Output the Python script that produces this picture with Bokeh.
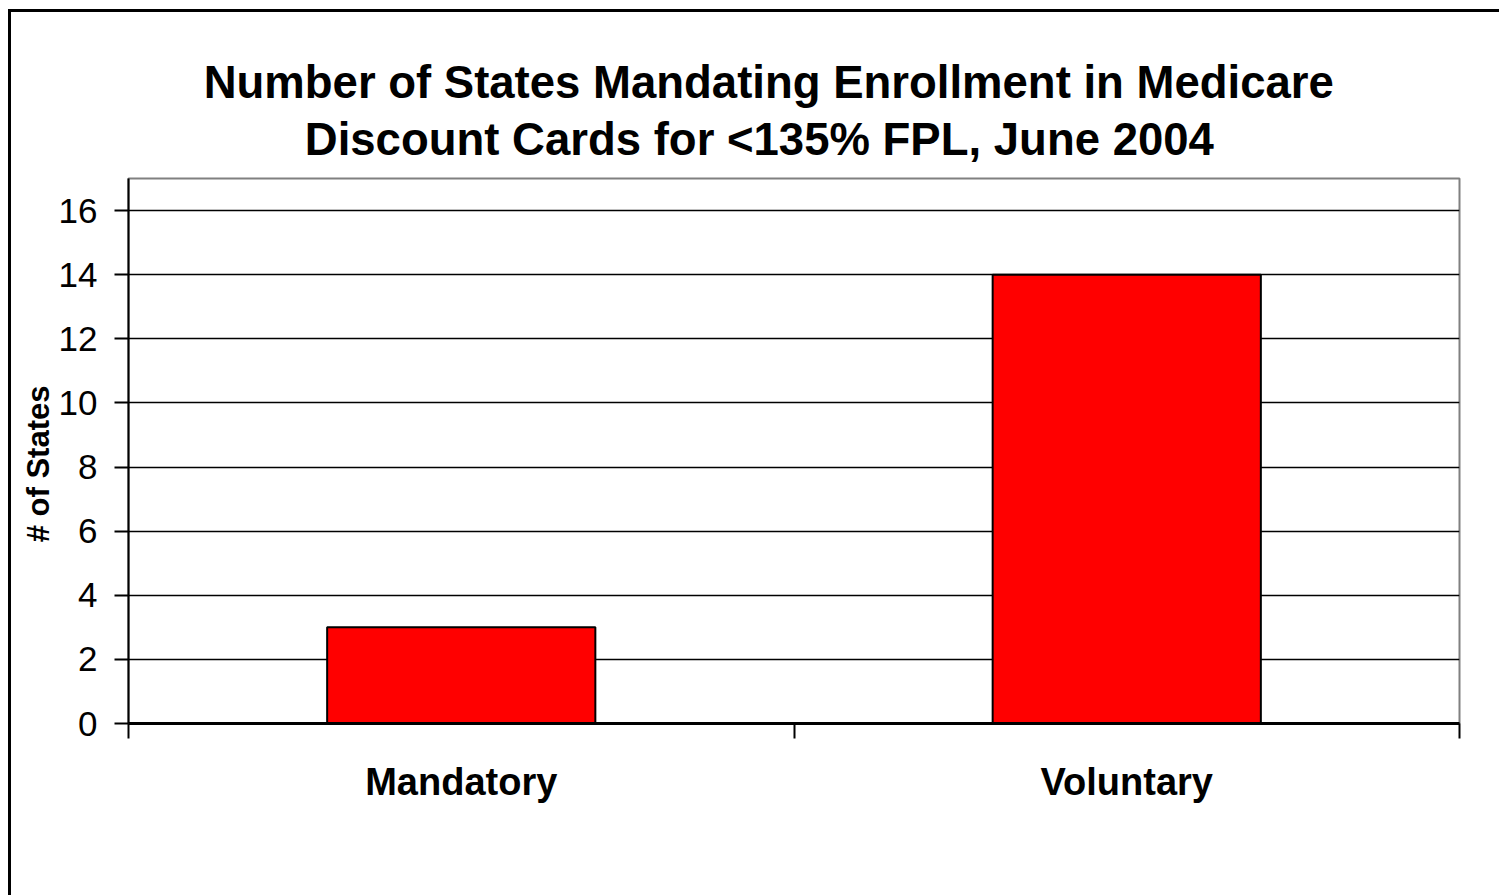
from bokeh.plotting import figure
from bokeh.models import (Range1d, FixedTicker, Title, ColumnDataSource, InlineStyleSheet)
from bokeh.embed import file_html
from bokeh.resources import INLINE

title_lines = ["Number of States Mandating Enrollment in Medicare",
               "Discount Cards for <135% FPL, June 2004"]
categories = ["Mandatory", "Voluntary"]
values = [3, 14]
y_ticks = [0, 2, 4, 6, 8, 10, 12, 14, 16]
y_label = "# of States"

FONT = "Liberation Sans"

positions = [i + 0.5 for i in range(len(categories))]
src = ColumnDataSource(dict(x=positions, top=values, cat=categories))

p = figure(width=1499, height=895, output_backend="svg", toolbar_location=None,
           x_range=Range1d(0, len(categories)), y_range=Range1d(0, 17),
           min_border_left=128, min_border_right=40, min_border_top=178,
           min_border_bottom=172, background_fill_color="white",
           border_fill_color="white")
p.title = None

p.vbar(x="x", top="top", width=0.403, source=src, fill_color="#FF0000",
       line_color="black", line_width=2)

# two-line title; no-break spaces centre line 2 and nudge the block left
nb = "\u00a0"
title_text = title_lines[0] + nb * 4 + "\n" + nb * 8 + title_lines[1]
title = Title(text=title_text, align="center",
              text_font=FONT, text_font_size="45.5px", text_font_style="bold",
              text_color="black", text_line_height=1.11, standoff=27)
p.add_layout(title, "above")

# y axis
ya = p.yaxis[0]
ya.ticker = FixedTicker(ticks=y_ticks, minor_ticks=[])
ya.axis_label = y_label + nb * 3
ya.axis_label_text_font = FONT
ya.axis_label_text_font_size = "31px"
ya.axis_label_text_font_style = "bold"
ya.axis_label_text_color = "black"
ya.axis_label_standoff = 0
ya.major_label_text_font = FONT
ya.major_label_text_font_size = "35px"
ya.major_label_text_color = "black"
ya.major_label_standoff = 17
ya.major_tick_out = 14
ya.major_tick_in = 0
ya.major_tick_line_width = 2
ya.major_tick_line_color = "black"
ya.axis_line_width = 2
ya.axis_line_color = "black"

# x axis
xa = p.xaxis[0]
xa.ticker = FixedTicker(ticks=positions, minor_ticks=list(range(len(categories) + 1)))
xa.major_label_overrides = {pos: c for pos, c in zip(positions, categories)}
xa.major_label_text_font = FONT
xa.major_label_text_font_size = "38px"
xa.major_label_text_font_style = "bold"
xa.major_label_text_color = "black"
xa.major_label_standoff = 22
xa.major_tick_out = 0
xa.major_tick_in = 0
xa.minor_tick_out = 15
xa.minor_tick_in = 0
xa.minor_tick_line_width = 2
xa.minor_tick_line_color = "black"
xa.axis_line_width = 3
xa.axis_line_color = "black"

p.xgrid.grid_line_color = None
p.ygrid.grid_line_color = "black"
p.ygrid.grid_line_width = 1.5

p.outline_line_color = "#808080"
p.outline_line_width = 2

p.stylesheets = [InlineStyleSheet(css="""
:host { position: relative; }
:host::after {
  content: ''; position: absolute; left: 8px; top: 9px; right: -20px; bottom: -20px;
  border-left: 3px solid black; border-top: 3px solid black;
  pointer-events: none; box-sizing: border-box;
}
""")]

open("out.html", "w").write(file_html(p, INLINE))
